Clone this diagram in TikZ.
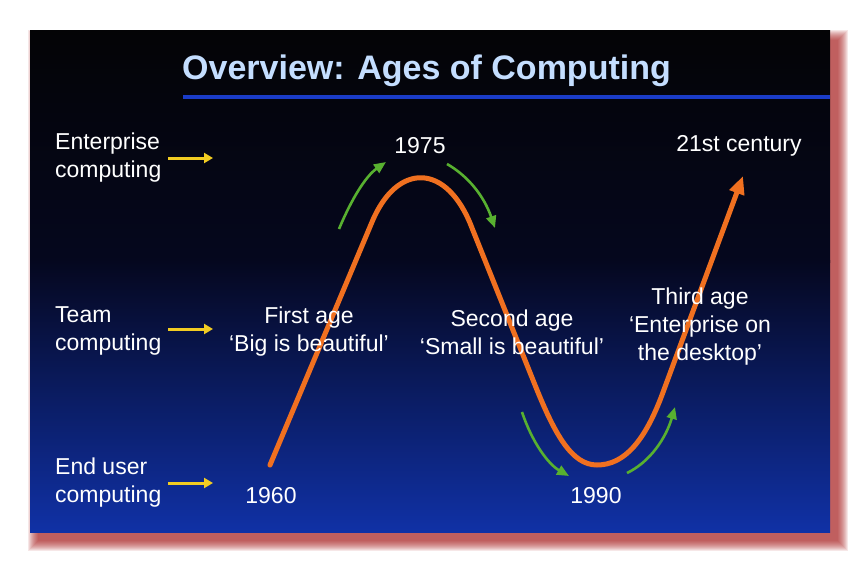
\documentclass[tikz,border=0pt]{standalone}
\usepackage{fontspec}
\setmainfont{Liberation Sans}
\usetikzlibrary{arrows.meta}
\definecolor{slidetop}{HTML}{040406}
\definecolor{slidemid}{HTML}{05071E}
\definecolor{slidebot}{HTML}{1031A6}
\definecolor{titleblue}{HTML}{C4DEFF}
\definecolor{rulecol}{HTML}{1A3CC8}
\definecolor{orangec}{HTML}{F07020}
\definecolor{greenc}{HTML}{58B030}
\definecolor{yellowc}{HTML}{F2CC22}
\definecolor{shadowc}{HTML}{A81C1C}
\begin{document}
\begin{tikzpicture}[x=1pt,y=-1pt,
  lbl/.style={text=white, font=\fontsize{23}{28}\selectfont, inner sep=0pt},
  leftlbl/.style={lbl, align=left, anchor=west},
  midlbl/.style={lbl, align=center},
  yarrow/.style={draw=yellowc, line width=3pt, -{Triangle[length=9pt,width=10pt]}},
  garrow/.style={draw=greenc, line width=2.6pt, -{Triangle[length=12pt,width=10pt]}},
  ocurve/.style={draw=orangec, line width=5pt, line cap=round, -{Triangle[length=18pt,width=15pt]}}]
\useasboundingbox (0,0) rectangle (860,562);
\fill[white] (0,0) rectangle (860,562);
% shadow
\foreach \i in {0,...,10}{
  \fill[shadowc, opacity=0.1] (38-\i,40-\i) rectangle (838+\i,541+\i);
}
% slide background
\shade[top color=slidetop, bottom color=slidemid] (30,30) rectangle (830,262);
\shade[top color=slidemid, bottom color=slidebot] (30,260) rectangle (830,532);
% title
\node[text=titleblue, font=\bfseries\fontsize{34}{40}\selectfont, anchor=west, inner sep=0pt] (title) at (182,71) {Overview: Ages of Computing};
\draw[rulecol, line width=4pt] (183,97) -- (830,97);
% orange curve
\coordinate (c60) at (270,465);
\coordinate (c21) at (743,176);
\draw[ocurve] (c60) -- (372,222) .. controls (397,162) and (447,162) .. (472,228)
  -- (535,385) .. controls (555,435) and (572,465) .. (597,465)
  .. controls (625,465) and (645,440) .. (662,395) -- (c21);
% green arrows
\coordinate (g1a) at (339,229); \coordinate (g1b) at (386,162);
\coordinate (g2a) at (447,164); \coordinate (g2b) at (495,228);
\coordinate (g3a) at (522,412); \coordinate (g3b) at (569,476);
\coordinate (g4a) at (627,473); \coordinate (g4b) at (675,407);
\draw[garrow] (g1a) .. controls (352,198) and (366,176) .. (g1b);
\draw[garrow] (g2a) .. controls (468,176) and (484,196) .. (g2b);
\draw[garrow] (g3a) .. controls (532,442) and (548,464) .. (g3b);
\draw[garrow] (g4a) .. controls (650,462) and (666,438) .. (g4b);
% left labels
\node[leftlbl] (ent) at (55,158) {Enterprise\\computing};
\node[leftlbl] (team) at (55,331) {Team\\computing};
\node[leftlbl] (end) at (55,483) {End user\\computing};
\coordinate (ya1) at (168,158); \coordinate (yb1) at (213,158);
\coordinate (ya2) at (168,329); \coordinate (yb2) at (213,329);
\coordinate (ya3) at (168,483); \coordinate (yb3) at (213,483);
\draw[yarrow] (ya1) -- (yb1);
\draw[yarrow] (ya2) -- (yb2);
\draw[yarrow] (ya3) -- (yb3);
% years
\node[midlbl] (y75) at (420,146) {1975};
\node[midlbl] (y21) at (739,146) {21st century};
\node[midlbl] (y60) at (271,496) {1960};
\node[midlbl] (y90) at (596,496) {1990};
% ages
\node[midlbl] (age1) at (309,332) {First age\\‘Big is beautiful’};
\node[midlbl] (age2) at (512,332) {Second age\\‘Small is beautiful’};
\node[midlbl] (age3) at (700,327) {Third age\\‘Enterprise on\\the desktop’};
\end{tikzpicture}
\end{document}
